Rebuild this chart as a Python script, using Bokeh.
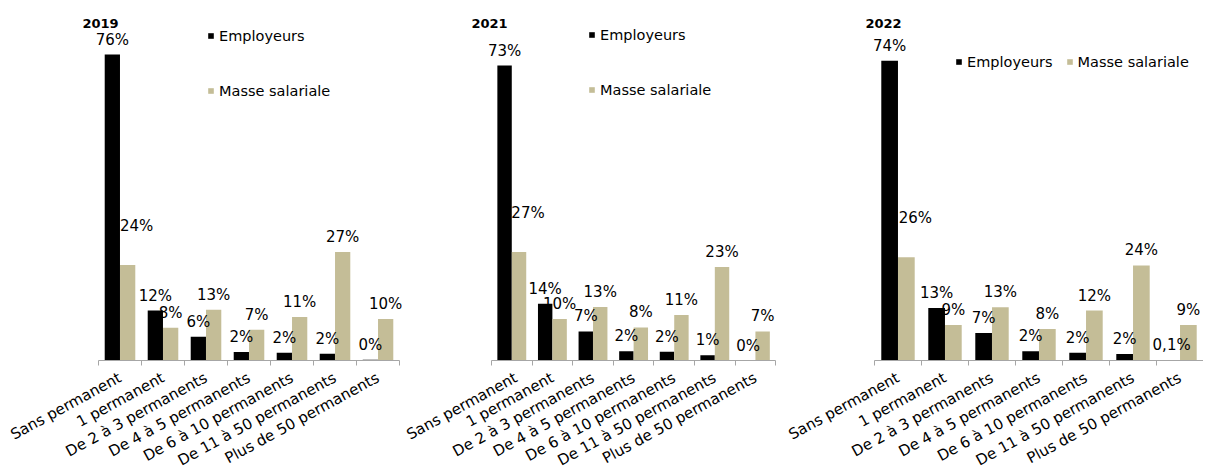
import numpy as np
from bokeh.plotting import figure
from bokeh.models import (ColumnDataSource, Range1d, FixedTicker, Legend,
                          LegendItem, Label)
from bokeh.layouts import row
from bokeh.embed import file_html
from bokeh.resources import INLINE
from bokeh.core.properties import value
from bokeh.transform import dodge

# ---------------- data ----------------
categories = ["Sans permanent", "1 permanent", "De 2 à 3 permanents",
              "De 4 à 5 permanents", "De 6 à 10 permanents",
              "De 11 à 50 permanents", "Plus de 50 permanents"]
series_names = ["Employeurs", "Masse salariale"]
years = ["2019", "2021", "2022"]

employeurs_2019 = [75.9, 12.4, 5.9, 2.1, 1.9, 1.7, 0.2]
masse_2019 = [23.7, 8.1, 12.6, 7.6, 10.8, 26.9, 10.3]
employeurs_2021 = [73.2, 14.1, 7.2, 2.3, 2.2, 1.3, 0.0]
masse_2021 = [26.9, 10.3, 13.3, 8.2, 11.3, 23.2, 7.2]
employeurs_2022 = [74.4, 13.0, 6.8, 2.3, 1.9, 1.6, 0.1]
masse_2022 = [25.6, 8.8, 13.2, 7.8, 12.4, 23.6, 8.8]

labels_emp_2019 = ["76%", "12%", "6%", "2%", "2%", "2%", "0%"]
labels_masse_2019 = ["24%", "8%", "13%", "7%", "11%", "27%", "10%"]
labels_emp_2021 = ["73%", "14%", "7%", "2%", "2%", "1%", "0%"]
labels_masse_2021 = ["27%", "10%", "13%", "8%", "11%", "23%", "7%"]
labels_emp_2022 = ["74%", "13%", "7%", "2%", "2%", "2%", "0,1%"]
labels_masse_2022 = ["26%", "9%", "13%", "8%", "12%", "24%", "9%"]

# ---------------- style ----------------
FONT = "DejaVu Sans"
EMP_COLOR = "#000000"
MASSE_COLOR = "#C4BD97"
AXIS_COLOR = "#A6A6A6"
PX_PER_PCT = 4.03
FRAME_H = 360            # frame spans from canvas top down to the baseline
Y_MAX = FRAME_H / PX_PER_PCT
BAR_W = 0.355
DODGE = 0.178
LABEL_DY = -15           # data labels: pixels above the bar top
FIRST_MASSE_LABEL_SHIFT = (9, -39)   # label of the first tan bar sits higher


def make_panel(year, emp, masse, lab_emp, lab_masse, canvas_w, axis_left,
               cat_w, legend_loc, orientation, legend_spacing, title_dx):
    n = len(categories)
    pos = [i + 0.5 for i in range(n)]
    m_dx = [0] * n
    m_dy = [LABEL_DY] * n
    m_dx[0], m_dy[0] = FIRST_MASSE_LABEL_SHIFT
    src = ColumnDataSource(dict(x=pos, emp=emp, masse=masse,
                                lab_emp=lab_emp, lab_masse=lab_masse,
                                m_dx=m_dx, m_dy=m_dy))
    x0 = -axis_left / cat_w
    x1 = (canvas_w - axis_left) / cat_w
    p = figure(frame_width=canvas_w, frame_height=FRAME_H,
               x_range=Range1d(x0, x1), y_range=Range1d(0, Y_MAX),
               output_backend="svg", toolbar_location=None,
               y_axis_location=None, min_border_left=0,
               min_border_right=0, min_border_top=0,
               min_border_bottom=0)
    p.outline_line_color = None
    p.grid.visible = False
    p.background_fill_color = "white"
    p.border_fill_color = "white"

    r1 = p.vbar(x=dodge("x", -DODGE), top="emp", width=BAR_W, source=src,
                fill_color=EMP_COLOR, line_color=None)
    r2 = p.vbar(x=dodge("x", DODGE), top="masse", width=BAR_W, source=src,
                fill_color=MASSE_COLOR, line_color=None)

    common = dict(text_font=value(FONT), text_font_size="15px",
                  text_align="center", text_baseline="middle",
                  text_color="#000000", source=src)
    p.text(x=dodge("x", -DODGE), y="emp", text="lab_emp", y_offset=LABEL_DY,
           **common)
    p.text(x=dodge("x", DODGE), y="masse", text="lab_masse", x_offset="m_dx",
           y_offset="m_dy", **common)

    ax = p.xaxis[0]
    ax.bounds = (0, n)
    ax.ticker = FixedTicker(ticks=pos, minor_ticks=list(range(n + 1)))
    ax.major_label_overrides = {pp: c for pp, c in zip(pos, categories)}
    ax.major_label_orientation = 0.5
    ax.major_label_text_font = FONT
    ax.major_label_text_font_size = "15px"
    ax.major_label_text_color = "#000000"
    ax.major_label_standoff = 11
    ax.axis_line_color = AXIS_COLOR
    ax.major_tick_line_color = None
    ax.major_tick_in = 0
    ax.major_tick_out = 0
    ax.minor_tick_line_color = AXIS_COLOR
    ax.minor_tick_in = 0
    ax.minor_tick_out = 5

    legend = Legend(items=[LegendItem(label=series_names[0], renderers=[r1]),
                           LegendItem(label=series_names[1], renderers=[r2])],
                    location=legend_loc, orientation=orientation,
                    glyph_width=7, glyph_height=7, label_standoff=5,
                    spacing=legend_spacing, padding=0, margin=0,
                    label_height=17, border_line_color=None,
                    background_fill_alpha=0,
                    label_text_font=FONT, label_text_font_size="14.5px",
                    label_text_color="#000000")
    p.add_layout(legend)

    p.add_layout(Label(x=0, y=Y_MAX, x_offset=title_dx, y_offset=-23,
                       text=year, text_font=FONT, text_font_size="13px",
                       text_font_style="bold", text_align="center",
                       text_baseline="middle", text_color="#000000"))
    return p


p1 = make_panel(years[0], employeurs_2019, masse_2019, labels_emp_2019,
                labels_masse_2019, 403, 98, 43.0, (207, 261), "vertical", 38, 2)
p2 = make_panel(years[1], employeurs_2021, masse_2021, labels_emp_2021,
                labels_masse_2021, 382, 88, 40.6, (185, 262), "vertical", 38, -2)
p3 = make_panel(years[2], employeurs_2022, masse_2022, labels_emp_2022,
                labels_masse_2022, 418, 89, 47.0, (170, 290), "horizontal", 13, 9)

layout = row(p1, p2, p3)
open("out.html", "w").write(file_html(layout, INLINE))
